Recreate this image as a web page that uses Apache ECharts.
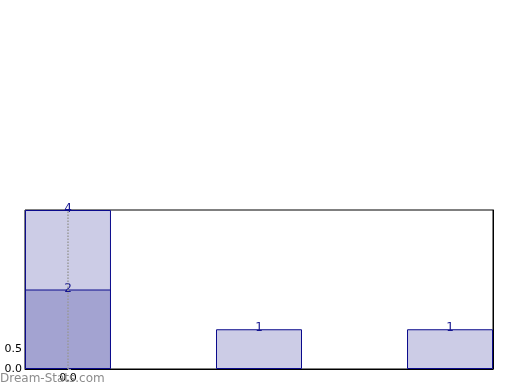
<!DOCTYPE html>
<html>
<head>
<meta charset="utf-8">
<script src="https://cdn.jsdelivr.net/npm/echarts@6/dist/echarts.min.js"></script>
<style>html,body{margin:0;padding:0;background:#fff}#c{width:520px;height:390px}</style>
</head>
<body>
<div id="c"></div>
<script>
var positions = [0, 1, 2];
var totals = [4, 1, 1];
var innerPositions = [0];
var innerValues = [2];
var yTickValues = [0, 0.5];
var xTickValues = [0];

var chart = echarts.init(document.getElementById('c'), null, {renderer: 'canvas'});
var font = 'DejaVu Sans';
var edge = '#0a0a8c';
var labelCol = '#14148f';
chart.setOption({
  animation: false,
  textStyle: {fontFamily: font},
  grid: {left: 25, right: 27, top: 210, bottom: 21, show: true, borderColor: '#000', borderWidth: 1, backgroundColor: 'transparent'},
  xAxis: {
    type: 'value', min: -0.225, max: 2.225,
    axisLine: {show: true, lineStyle: {color: '#000'}},
    axisTick: {show: false},
    axisLabel: {customValues: xTickValues, formatter: function(v){return v.toFixed(1);}, color: '#000', fontSize: 11, margin: 4, fontFamily: font},
    splitLine: {show: false}
  },
  yAxis: [{
    type: 'value', min: 0, max: 4,
    axisLine: {show: true, lineStyle: {color: '#000'}},
    axisTick: {show: true, inside: true, length: 3, customValues: yTickValues, lineStyle: {color: '#999'}},
    axisLabel: {customValues: yTickValues, formatter: function(v){return v.toFixed(1);}, color: '#000', fontSize: 11, margin: 3, fontFamily: font},
    splitLine: {show: false}
  }, {
    type: 'value', min: 0, max: 4, position: 'right',
    axisLine: {show: true, lineStyle: {color: '#000'}},
    axisTick: {show: true, inside: true, length: 3, customValues: [0.5], lineStyle: {color: '#999'}},
    axisLabel: {show: false},
    splitLine: {show: false}
  }],
  series: [{
    type: 'bar',
    barWidth: 86,
    barGap: '-100%',
    data: positions.map(function(p, i){return [p, totals[i]];}),
    itemStyle: {color: '#ccccE6', borderColor: edge, borderWidth: 1},
    label: {show: true, position: 'top', distance: -5, color: labelCol, fontSize: 12, fontFamily: font, formatter: function(p){return p.value[1];}},
    markLine: {
      silent: true, symbol: ['none', 'none'], label: {show: false},
      lineStyle: {type: 'dotted', color: '#999', width: 1.5},
      data: xTickValues.map(function(v){return {xAxis: v};})
    }
  }, {
    type: 'bar',
    barWidth: 86,
    barGap: '-100%',
    data: innerPositions.map(function(p, i){return [p, innerValues[i]];}),
    itemStyle: {color: '#a3a3d1', borderColor: edge, borderWidth: 1},
    label: {show: true, position: 'top', distance: -5, color: labelCol, fontSize: 12, fontFamily: font, formatter: function(p){return p.value[1];}}
  }],
  graphic: [{
    type: 'text', left: 0, top: 373, z: 100,
    style: {text: 'Dream-Stats.com', fill: 'rgba(128,128,128,0.9)', font: '12px "DejaVu Sans"'}
  }]
});
</script>
</body>
</html>
